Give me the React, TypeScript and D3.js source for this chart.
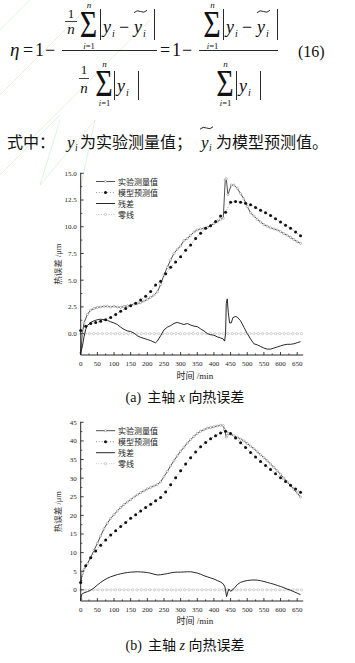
import React from "react";
import * as d3 from "d3";

// ---------- data ----------
const xTickValues = [0, 50, 100, 150, 200, 250, 300, 350, 400, 450, 500, 550, 600, 650];
const yTicksA = [0, 2.5, 5, 7.5, 10, 12.5, 15];
const yTicksB = [0, 5, 10, 15, 20, 25, 30, 35, 40, 45];
const legendLabels = ["实验测量值", "模型预测值", "残差", "零线"];

// chart (a) measured
const aMeasT = [0, 5, 10, 20, 30, 40, 50, 60, 70, 80, 90, 100, 110, 120, 130, 140, 150, 160, 170, 180, 190, 200, 210, 220, 230, 240, 250, 260, 270, 280, 290, 300, 310, 320, 330, 340, 350, 360, 370, 380, 390, 400, 410, 420, 428, 434, 437, 442, 452, 460, 470, 480, 490, 500, 510, 520, 530, 540, 550, 560, 570, 580, 590, 600, 610, 620, 630, 640, 650, 660];
const aMeasV = [-1.8, 0.0, 1.0, 1.8, 2.2, 2.35, 2.45, 2.5, 2.55, 2.55, 2.5, 2.55, 2.5, 2.45, 2.55, 2.6, 2.65, 2.75, 2.8, 2.9, 3.05, 3.2, 3.4, 3.6, 3.9, 4.6, 5.5, 6.2, 6.9, 7.5, 7.9, 8.2, 8.7, 8.9, 9.2, 9.5, 9.7, 9.8, 9.85, 9.95, 10.1, 10.3, 10.45, 10.7, 10.8, 14.4, 14.5, 13.0, 13.9, 13.9, 13.6, 13.1, 12.6, 11.9, 11.3, 11.0, 10.7, 10.45, 10.2, 10.05, 9.9, 9.8, 9.7, 9.55, 9.35, 9.2, 9.0, 8.8, 8.6, 8.45];

// chart (a) model
const aModT = [0, 15, 30, 45, 60, 75, 90, 105, 120, 135, 150, 165, 180, 195, 210, 225, 240, 255, 270, 285, 300, 315, 330, 345, 360, 375, 390, 405, 420, 435, 450, 465, 480, 495, 510, 525, 540, 555, 570, 585, 600, 615, 630, 645, 660];
const aModV = [0.3, 0.7, 0.95, 1.05, 1.15, 1.3, 1.5, 1.8, 2.1, 2.35, 2.6, 2.85, 3.15, 3.5, 3.95, 4.55, 4.9, 5.6, 6.2, 6.7, 7.2, 7.8, 8.3, 8.9, 9.4, 9.85, 10.1, 10.5, 11.0, 11.35, 12.3, 12.35, 12.3, 12.2, 12.05, 11.8, 11.55, 11.3, 11.05, 10.75, 10.45, 10.15, 9.85, 9.5, 9.15];

// chart (a) residual
const aResT = [0, 5, 10, 15, 20, 30, 40, 50, 60, 70, 80, 90, 100, 110, 120, 130, 140, 150, 160, 170, 180, 190, 200, 210, 220, 225, 230, 240, 250, 260, 270, 280, 290, 300, 310, 320, 330, 340, 350, 360, 370, 380, 390, 400, 410, 420, 428, 432, 435, 437, 440, 443, 447, 452, 457, 465, 470, 480, 490, 500, 510, 520, 530, 540, 550, 560, 570, 580, 590, 600, 610, 620, 630, 640, 650, 660];
const aResV = [-1.8, -1.2, -0.3, 0.4, 0.75, 1.05, 1.2, 1.3, 1.35, 1.3, 1.25, 1.1, 1.0, 0.85, 0.6, 0.4, 0.25, 0.2, 0.05, -0.2, -0.35, -0.45, -0.55, -0.65, -0.8, -0.85, -0.7, -0.2, 0.35, 0.6, 0.75, 0.95, 1.05, 0.95, 0.85, 0.95, 0.8, 0.7, 0.65, 0.45, 0.25, 0.0, -0.1, -0.15, -0.3, -0.4, -0.5, -0.7, 0.0, 2.8, 3.25, 2.0, 1.0, 1.0, 1.5, 1.6, 1.55, 1.2, 0.6, 0.0, -0.5, -0.95, -1.05, -1.2, -1.35, -1.45, -1.45, -1.35, -1.25, -1.15, -1.05, -1.0, -1.0, -0.95, -0.85, -0.75];

// chart (b) measured
const bMeasT = [0, 5, 10, 20, 30, 40, 50, 60, 70, 80, 90, 100, 110, 120, 130, 140, 150, 160, 170, 180, 190, 200, 210, 220, 230, 240, 250, 260, 270, 280, 290, 300, 310, 320, 330, 340, 350, 360, 370, 380, 390, 400, 410, 420, 428, 432, 437, 440, 445, 450, 460, 470, 480, 490, 500, 510, 520, 530, 540, 550, 560, 570, 580, 590, 600, 610, 620, 630, 640, 650, 660];
const bMeasV = [2.0, 4.5, 5.5, 7.0, 8.7, 10.6, 12.5, 14.5, 16.4, 17.9, 19.2, 20.2, 21.2, 22.1, 22.9, 23.6, 24.2, 24.9, 25.5, 26.1, 26.6, 27.1, 27.5, 27.9, 28.3, 29.0, 30.4, 31.8, 33.3, 34.7, 36.0, 37.2, 38.3, 39.4, 40.4, 41.2, 42.0, 42.6, 43.0, 43.4, 43.6, 43.8, 44.0, 44.2, 44.1, 43.0, 41.0, 41.5, 42.0, 41.8, 41.4, 41.0, 40.5, 40.0, 39.3, 38.6, 37.9, 37.1, 36.3, 35.5, 34.7, 33.8, 32.9, 32.0, 31.0, 30.0, 29.0, 28.0, 27.0, 26.0, 24.9];

// chart (b) model
const bModT = [0, 15, 30, 45, 60, 75, 90, 105, 120, 135, 150, 165, 180, 195, 210, 225, 240, 255, 270, 285, 300, 315, 330, 345, 360, 375, 390, 405, 420, 435, 450, 465, 480, 495, 510, 525, 540, 555, 570, 585, 600, 615, 630, 645, 660];
const bModV = [2.0, 6.5, 8.6, 10.4, 12.0, 13.4, 14.7, 15.9, 17.0, 18.1, 19.2, 20.2, 21.2, 22.1, 23.0, 23.9, 24.8, 26.3, 28.2, 30.1, 32.0, 33.8, 35.5, 37.0, 38.4, 39.6, 40.6, 41.4, 42.1, 42.6, 42.0, 40.8, 39.5, 38.2, 36.9, 35.7, 34.5, 33.4, 32.3, 31.2, 30.1, 29.1, 28.1, 27.1, 26.2];

// chart (b) residual
const bResT = [0, 3, 10, 20, 30, 40, 50, 60, 70, 80, 90, 100, 110, 120, 130, 140, 150, 160, 170, 180, 190, 200, 210, 220, 230, 240, 250, 260, 270, 280, 290, 300, 310, 320, 330, 340, 350, 360, 370, 380, 390, 400, 410, 420, 428, 433, 438, 442, 445, 450, 460, 470, 480, 490, 500, 510, 520, 530, 540, 550, 560, 570, 580, 590, 600, 610, 620, 630, 640, 650, 660];
const bResV = [-2.5, -1.2, -0.8, -0.5, -0.1, 0.5, 1.3, 2.0, 2.6, 3.1, 3.5, 3.8, 4.1, 4.3, 4.5, 4.65, 4.75, 4.8, 4.85, 4.8, 4.75, 4.65, 4.45, 4.2, 4.0, 4.05, 4.2, 4.35, 4.55, 4.7, 4.75, 4.75, 4.8, 4.85, 4.85, 4.7, 4.5, 4.2, 3.8, 3.5, 3.2, 2.9, 2.5, 2.1, 1.6, 0.8, -1.8, -0.5, 0.2, -0.4, 0.3, 1.4, 2.0, 2.3, 2.5, 2.6, 2.65, 2.6, 2.45, 2.25, 2.0, 1.75, 1.5, 1.2, 0.9, 0.6, 0.2, -0.1, -0.5, -0.9, -1.3];

// zero reference line sample times
const zeroT = d3.range(0, 664, 13);

const SERIF = "'Liberation Serif', 'Times New Roman', 'Noto Sans CJK SC', serif";

type Pt = [number, number];
const zip = (t: number[], v: number[]): Pt[] => t.map((d, i) => [d, v[i]]);

function Chart(props: {
  top: number; bottom: number; yMin: number; yMax: number; yTicks: number[];
  fmt: (v: number) => string; meas: Pt[]; model: Pt[]; resid: Pt[];
  legendTop: number; xLabelY: number;
}) {
  const { top, bottom, yMin, yMax, yTicks, fmt, meas, model, resid, legendTop, xLabelY } = props;
  const x = d3.scaleLinear().domain([0, 650]).range([80.7, 297.2]);
  const y = d3.scaleLinear().domain([yMin, yMax]).range([bottom, top]);
  const x0 = x(0);
  const xEnd = x(668);
  const line = d3.line<Pt>().x((d) => x(d[0])).y((d) => y(d[1]));
  const zero: Pt[] = zeroT.map((t) => [t, 0]);
  const step = yTicks[1] - yTicks[0];
  const yMinor = yTicks.slice(0, -1).map((v) => v + step / 2).concat([yTicks[0] - step / 2]).filter((v) => v >= yMin);
  const xMinor = xTickValues.map((v) => v + 25).filter((v) => v <= 668);
  const lg = (i: number) => legendTop + i * 11;
  const midY = (top + bottom) / 2;
  return (
    <g>
      {/* zero line */}
      <path d={line(zero) || ""} fill="none" stroke="#a0a0a0" strokeWidth={0.6} strokeDasharray="1 1.5" />
      {zero.map((d, i) => (
        <circle key={"z" + i} cx={x(d[0])} cy={y(d[1])} r={1.15} fill="#fff" stroke="#a0a0a0" strokeWidth={0.45} />
      ))}
      {/* model */}
      <path d={line(model) || ""} fill="none" stroke="#555" strokeWidth={0.6} strokeDasharray="1 1.8" />
      {/* measured */}
      <path d={line(meas) || ""} fill="none" stroke="#222" strokeWidth={0.8} />
      {meas.map((d, i) => (
        <circle key={"m" + i} cx={x(d[0])} cy={y(d[1])} r={1.1} fill="#fff" stroke="#777" strokeWidth={0.45} />
      ))}
      {model.map((d, i) => (
        <circle key={"p" + i} cx={x(d[0])} cy={y(d[1])} r={1.5} fill="#111" />
      ))}
      {/* residual */}
      <path d={line(resid) || ""} fill="none" stroke="#111" strokeWidth={0.9} />

      {/* axes */}
      <line x1={x0} x2={x0} y1={top - 0.5} y2={bottom} stroke="#111" strokeWidth={0.9} />
      <line x1={x0} x2={xEnd} y1={bottom} y2={bottom} stroke="#111" strokeWidth={0.9} />
      {yTicks.map((v) => (
        <g key={"yt" + v}>
          <line x1={x0} x2={x0 + 3} y1={y(v)} y2={y(v)} stroke="#111" strokeWidth={0.8} />
          <text x={x0 - 4} y={y(v) + 2.4} fontSize={7} textAnchor="end" fill="#222">{fmt(v)}</text>
        </g>
      ))}
      {yMinor.map((v) => (
        <line key={"ym" + v} x1={x0} x2={x0 + 1.6} y1={y(v)} y2={y(v)} stroke="#111" strokeWidth={0.7} />
      ))}
      {xTickValues.map((v) => (
        <g key={"xt" + v}>
          <line x1={x(v)} x2={x(v)} y1={bottom} y2={bottom - 3} stroke="#111" strokeWidth={0.8} />
          <text x={x(v)} y={bottom + 10.5} fontSize={7} textAnchor="middle" fill="#222">{v}</text>
        </g>
      ))}
      {xMinor.map((v) => (
        <line key={"xm" + v} x1={x(v)} x2={x(v)} y1={bottom} y2={bottom - 1.6} stroke="#111" strokeWidth={0.7} />
      ))}
      <text x={195} y={xLabelY} fontSize={9} textAnchor="middle" fill="#222">时间 /min</text>
      <text transform={`translate(61,${midY}) rotate(-90)`} fontSize={8.5} textAnchor="middle" fill="#333">热误差 /μm</text>

      {/* legend */}
      <line x1={96} x2={115} y1={lg(0)} y2={lg(0)} stroke="#222" strokeWidth={0.8} />
      <circle cx={105.5} cy={lg(0)} r={1.1} fill="#fff" stroke="#777" strokeWidth={0.45} />
      <line x1={96} x2={115} y1={lg(1)} y2={lg(1)} stroke="#555" strokeWidth={0.6} strokeDasharray="1 1.8" />
      <circle cx={105.5} cy={lg(1)} r={1.5} fill="#111" />
      <line x1={96} x2={115} y1={lg(2)} y2={lg(2)} stroke="#111" strokeWidth={0.9} />
      <line x1={96} x2={115} y1={lg(3)} y2={lg(3)} stroke="#a0a0a0" strokeWidth={0.6} strokeDasharray="1 1.5" />
      <circle cx={105.5} cy={lg(3)} r={1.15} fill="#fff" stroke="#a0a0a0" strokeWidth={0.45} />
      {legendLabels.map((s, i) => (
        <text key={s} x={118} y={lg(i) + 3} fontSize={8} fill="#222">{s}</text>
      ))}
    </g>
  );
}

function Sigma(p: { cx: number; base: number; nY: number; iY: number }) {
  return (
    <g>
      <text transform={`translate(${p.cx},${p.base}) scale(1,1.25)`} fontSize={30} textAnchor="middle">Σ</text>
      <text x={p.cx + 0.5} y={p.nY} fontSize={9} fontStyle="italic" textAnchor="middle">n</text>
      <text x={p.cx + 0.5} y={p.iY} fontSize={8.5} textAnchor="middle"><tspan fontStyle="italic">i</tspan>=1</text>
    </g>
  );
}

function Tilde(p: { x: number; y: number }) {
  const { x, y } = p;
  return <path d={`M${x},${y + 1.2} Q${x + 3},${y - 2} ${x + 6.5},${y} T${x + 13},${y - 1.2}`} fill="none" stroke="#111" strokeWidth={0.9} />;
}

function Formula() {
  return (
    <g fill="#111">
      <text x={10} y={56} fontSize={19} fontStyle="italic">η</text>
      <text x={23} y={56} fontSize={18}>=</text>
      <text x={35} y={56} fontSize={18}>1</text>
      <text x={45} y={56} fontSize={18}>−</text>
      {/* fraction 1 */}
      <line x1={62} x2={157} y1={50.5} y2={50.5} stroke="#111" strokeWidth={0.9} />
      <text x={71} y={18} fontSize={13} textAnchor="middle">1</text>
      <line x1={65} x2={77} y1={21.5} y2={21.5} stroke="#111" strokeWidth={0.8} />
      <text x={71} y={34} fontSize={15} fontStyle="italic" textAnchor="middle">n</text>
      <Sigma cx={88.5} base={37} nY={8} iY={49} />
      <line x1={100.5} x2={100.5} y1={9} y2={40} stroke="#111" strokeWidth={0.9} />
      <text x={103} y={33} fontSize={18} fontStyle="italic">y</text>
      <text x={112} y={37} fontSize={10} fontStyle="italic">i</text>
      <text x={119} y={33} fontSize={18}>−</text>
      <text x={134} y={33} fontSize={18} fontStyle="italic">y</text>
      <Tilde x={134} y={11.5} />
      <text x={143} y={37} fontSize={10} fontStyle="italic">i</text>
      <line x1={154.5} x2={154.5} y1={9} y2={40} stroke="#111" strokeWidth={0.9} />
      <text x={84} y={74} fontSize={13} textAnchor="middle">1</text>
      <line x1={79} x2={89} y1={78.5} y2={78.5} stroke="#111" strokeWidth={0.8} />
      <text x={84} y={93} fontSize={15} fontStyle="italic" textAnchor="middle">n</text>
      <Sigma cx={104} base={96} nY={67} iY={106} />
      <line x1={114.5} x2={114.5} y1={71} y2={100} stroke="#111" strokeWidth={0.9} />
      <text x={117} y={92} fontSize={18} fontStyle="italic">y</text>
      <text x={126} y={96} fontSize={10} fontStyle="italic">i</text>
      <line x1={138.5} x2={138.5} y1={71} y2={100} stroke="#111" strokeWidth={0.9} />

      <text x={160} y={56} fontSize={18}>=</text>
      <text x={172} y={56} fontSize={18}>1</text>
      <text x={182} y={56} fontSize={18}>−</text>
      {/* fraction 2 */}
      <line x1={199} x2={278} y1={50.5} y2={50.5} stroke="#111" strokeWidth={0.9} />
      <Sigma cx={212} base={37} nY={8} iY={49} />
      <line x1={223.5} x2={223.5} y1={9} y2={40} stroke="#111" strokeWidth={0.9} />
      <text x={226} y={33} fontSize={18} fontStyle="italic">y</text>
      <text x={235} y={37} fontSize={10} fontStyle="italic">i</text>
      <text x={242} y={33} fontSize={18}>−</text>
      <text x={257} y={33} fontSize={18} fontStyle="italic">y</text>
      <Tilde x={257} y={11.5} />
      <text x={266} y={37} fontSize={10} fontStyle="italic">i</text>
      <line x1={277.5} x2={277.5} y1={9} y2={40} stroke="#111" strokeWidth={0.9} />
      <Sigma cx={225} base={96} nY={67} iY={106} />
      <line x1={236.5} x2={236.5} y1={71} y2={100} stroke="#111" strokeWidth={0.9} />
      <text x={239} y={92} fontSize={18} fontStyle="italic">y</text>
      <text x={248} y={96} fontSize={10} fontStyle="italic">i</text>
      <line x1={260.5} x2={260.5} y1={71} y2={100} stroke="#111" strokeWidth={0.9} />

      <text x={298} y={57} fontSize={16}>(16)</text>

      {/* description line */}
      <text x={7} y={148} fontSize={16}>式中：</text>
      <text x={67} y={148} fontSize={17} fontStyle="italic">y</text>
      <text x={75} y={151} fontSize={9.5} fontStyle="italic">i</text>
      <text x={80} y={148} fontSize={16}>为实验测量值；</text>
      <text x={201} y={148} fontSize={17} fontStyle="italic">y</text>
      <Tilde x={200} y={128} />
      <text x={209} y={151} fontSize={9.5} fontStyle="italic">i</text>
      <text x={216} y={148} fontSize={16}>为模型预测值。</text>
    </g>
  );
}

export default function App() {
  return (
    <svg width={355} height={663} viewBox="0 0 355 663"
      style={{ position: "absolute", left: 0, top: 0, background: "#fff", fontFamily: SERIF }}>
      <rect x={0} y={0} width={355} height={663} fill="#fff" />
      {/* faint watermark */}
      <g stroke="#d3f2d3" strokeWidth={0.8} fill="none">
        <path d="M0,30 L30,0" />
        <path d="M0,95 L95,0" />
        <path d="M20,150 L150,20" />
        <path d="M60,120 L40,185 L95,120 L80,190" />
        <path d="M0,175 L60,115" />
      </g>
      <Formula />
      <Chart top={173.3} bottom={355} yMin={-2} yMax={15} yTicks={yTicksA} fmt={d3.format(".1f")}
        meas={zip(aMeasT, aMeasV)} model={zip(aModT, aModV)} resid={zip(aResT, aResV)}
        legendTop={181.5} xLabelY={379} />
      <text x={185} y={402} fontSize={14} textAnchor="middle" fill="#111">
        (a)<tspan dx={6}>主轴 </tspan><tspan fontStyle="italic">x</tspan> 向热误差
      </text>
      <Chart top={422.3} bottom={601} yMin={-3} yMax={45} yTicks={yTicksB} fmt={d3.format("d")}
        meas={zip(bMeasT, bMeasV)} model={zip(bModT, bModV)} resid={zip(bResT, bResV)}
        legendTop={430.7} xLabelY={624} />
      <text x={185} y={650} fontSize={14} textAnchor="middle" fill="#111">
        (b)<tspan dx={6}>主轴 </tspan><tspan fontStyle="italic">z</tspan> 向热误差
      </text>
    </svg>
  );
}
